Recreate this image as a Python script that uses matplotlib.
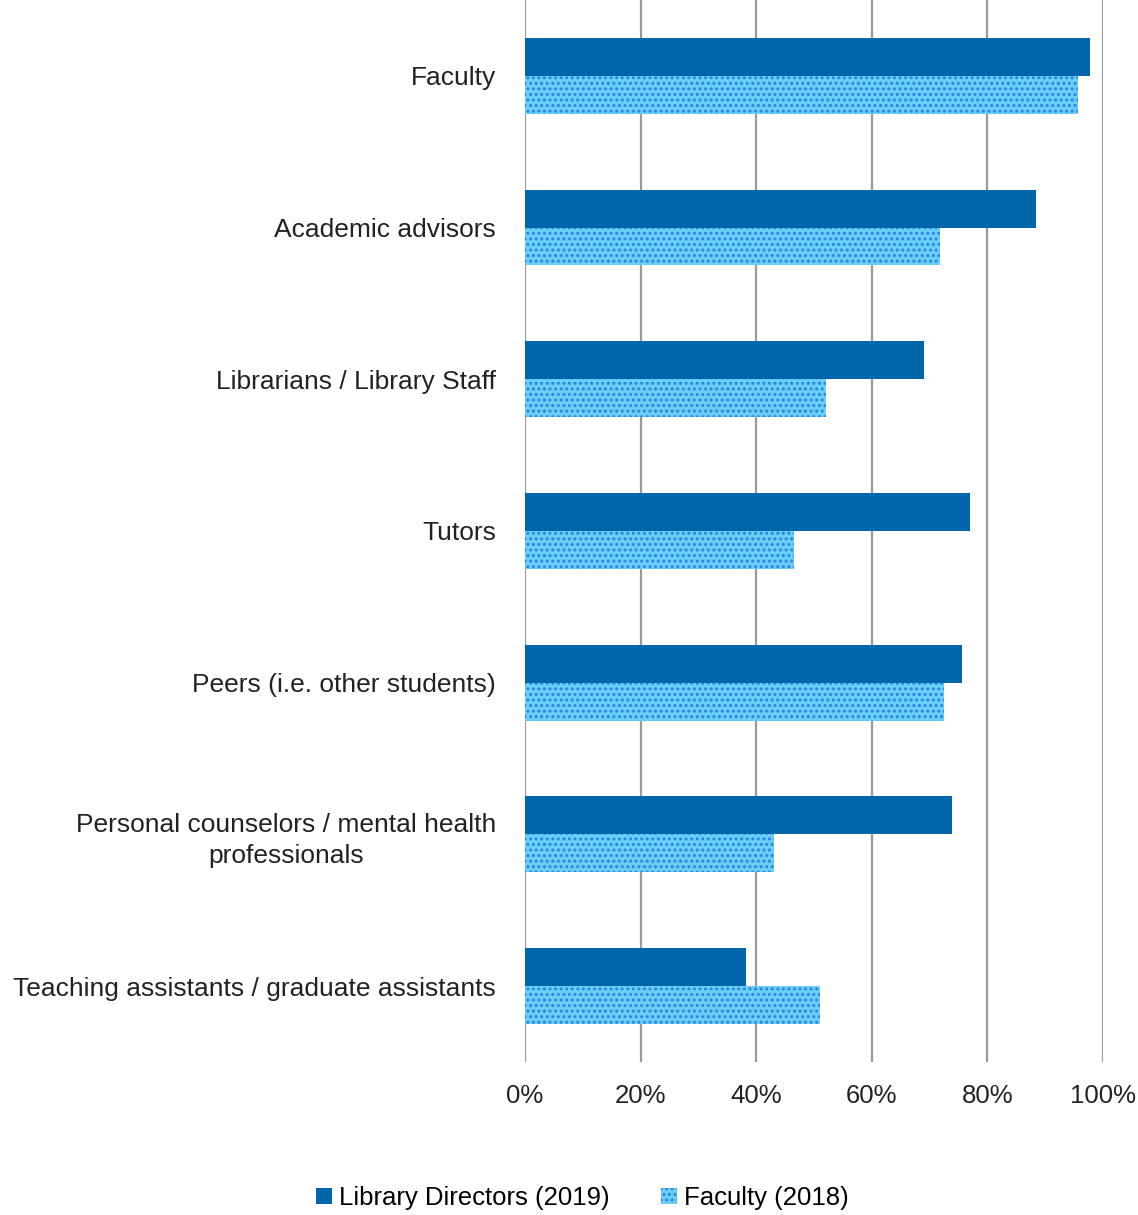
import matplotlib
matplotlib.use("Agg")
import matplotlib.pyplot as plt
import numpy as np
from matplotlib.patches import Patch

categories = [
    "Faculty",
    "Academic advisors",
    "Librarians / Library Staff",
    "Tutors",
    "Peers (i.e. other students)",
    "Personal counselors / mental health\nprofessionals",
    "Teaching assistants / graduate assistants",
]
directors_2019 = [97.7, 88.4, 69.0, 77.0, 75.6, 73.9, 38.2]
faculty_2018 = [95.7, 71.8, 52.1, 46.5, 72.5, 43.1, 51.0]
xticks = [0, 20, 40, 60, 80, 100]
xtick_labels = ["0%", "20%", "40%", "60%", "80%", "100%"]
series_names = ["Library Directors (2019)", "Faculty (2018)"]

plt.rcParams['font.family'] = ['Liberation Sans', 'DejaVu Sans']
plt.rcParams['hatch.linewidth'] = 1.4

dark = "#0066AB"
light = "#6ACFF6"
dots = "#2B82E2"

fig = plt.figure(figsize=(11.38, 12.15), dpi=100)
ax = fig.add_axes([0.4613, 0.126, 0.5079, 0.874])

y = np.arange(len(categories))
h = 0.25
ax.barh(y - h / 2, directors_2019, height=h, color=dark, linewidth=0, zorder=3)
ax.barh(y + h / 2, faculty_2018, height=h, facecolor=light, edgecolor=dots,
        hatch="...", linewidth=0, zorder=3)

ax.set_ylim(len(categories) - 0.5, -0.5)
ax.set_xlim(0, 100)
ax.set_yticks(y)
ax.set_yticklabels(categories, fontsize=19, color="#222222",
                   multialignment="center", linespacing=1.35)
ax.set_xticks(xticks)
ax.set_xticklabels(xtick_labels, fontsize=18.5, color="#222222")
ax.tick_params(axis="both", length=0)
ax.tick_params(axis="y", pad=21)
ax.tick_params(axis="x", pad=16)
for s in ax.spines.values():
    s.set_visible(False)
ax.grid(axis="x", color="#9a9a9a", linewidth=1.6, zorder=0)
ax.set_axisbelow(True)

handles = [Patch(facecolor=dark, linewidth=0),
           Patch(facecolor=light, edgecolor=dots, hatch="...", linewidth=0)]
fig.legend(handles, series_names, loc="center", bbox_to_anchor=(0.512, 0.014),
           ncol=2, frameon=False, fontsize=18.5, handlelength=0.6, handleheight=0.6,
           handletextpad=0.3, columnspacing=2.0)

fig.savefig("out.png", dpi=100)
